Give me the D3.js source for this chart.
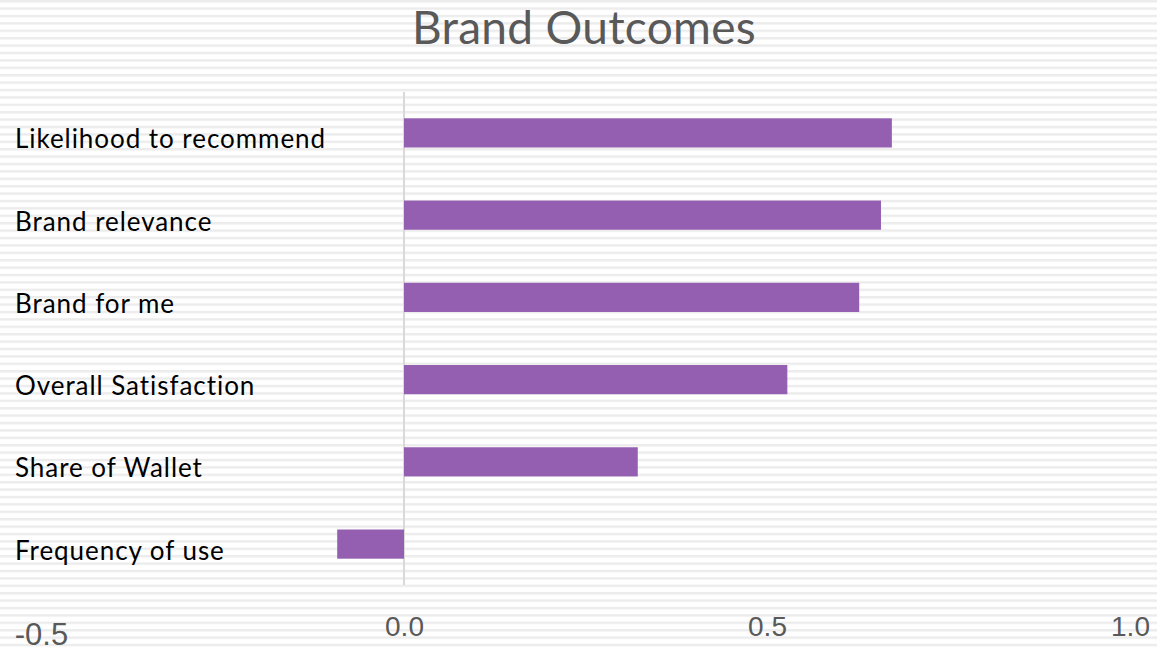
<!DOCTYPE html>
<html>
<head>
<meta charset="utf-8">
<script src="https://cdn.jsdelivr.net/npm/d3@7"></script>
<style>
	body { margin: 0; background: #fff; }
	svg { display: block; }
</style>
</head>
<body>
<svg id="chart" width="1157" height="651"></svg>
<script>
const categories = ['Likelihood to recommend', 'Brand relevance', 'Brand for me', 'Overall Satisfaction', 'Share of Wallet', 'Frequency of use'];
const values = [0.672, 0.657, 0.627, 0.528, 0.322, -0.092];
const tickValues = [-0.5, 0.0, 0.5, 1.0];

const width = 1157;
const height = 651;
const svg = d3.select('#chart');

// striped background
const defs = svg.append('defs');
const pattern = defs.append('pattern')
	.attr('id', 'stripes')
	.attr('patternUnits', 'userSpaceOnUse')
	.attr('width', 8)
	.attr('height', 7.4);
pattern.append('rect').attr('width', 8).attr('height', 7.4).attr('fill', '#ffffff');
pattern.append('rect').attr('y', 0).attr('width', 8).attr('height', 2.4).attr('fill', '#ececec');
svg.append('rect').attr('width', width).attr('height', height).attr('fill', 'url(#stripes)');

const x = d3.scaleLinear().domain([-0.5, 1.0]).range([41, 1130]);
const y = d3.scaleBand().domain(categories).range([92, 585]).paddingInner(0.645).paddingOuter(0.32);

svg.append('text')
	.attr('x', 584)
	.attr('y', 44)
	.attr('text-anchor', 'middle')
	.style('font-family', 'Lato, sans-serif')
	.style('font-size', '46px')
	.style('letter-spacing', '0.3px')
	.attr('fill', '#595959')
	.text('Brand Outcomes');

// zero line
svg.append('line')
	.attr('x1', x(0)).attr('x2', x(0))
	.attr('y1', 92).attr('y2', 585)
	.attr('stroke', '#d9d9d9')
	.attr('stroke-width', 2);

svg.append('g')
	.selectAll('rect')
	.data(values)
	.enter()
	.append('rect')
	.attr('x', (d) => x(Math.min(0, d)))
	.attr('width', (d) => Math.abs(x(d) - x(0)))
	.attr('y', (d, i) => y(categories[i]))
	.attr('height', y.bandwidth())
	.attr('fill', '#945fb0');

// category labels
svg.append('g')
	.selectAll('text')
	.data(categories)
	.enter()
	.append('text')
	.attr('x', 15)
	.attr('y', (d) => y(d) + y.bandwidth() / 2 + 9)
	.attr('dominant-baseline', 'middle')
	.style('font-family', 'Lato, sans-serif')
	.style('font-size', '26px')
	.style('letter-spacing', '0.95px')
	.attr('fill', '#000')
	.text((d) => d);

// x axis
const fmt = (d) => d3.format('.1f')(d).replace('\u2212', '-');
const xAxis = d3.axisBottom(x).tickValues(tickValues).tickFormat(fmt).tickSize(0);
const axisG = svg.append('g').attr('transform', 'translate(0,626)').call(xAxis);
axisG.select('.domain').remove();
axisG.selectAll('text')
	.attr('dy', '0.35em')
	.attr('y', 0)
	.style('font-family', '"Liberation Sans", Arial, sans-serif')
	.style('font-size', '28px')
	.attr('fill', '#595959');
axisG.selectAll('.tick').filter((d) => d === -0.5).select('text')
	.attr('dy', '0.6em')
	.style('font-size', '31px');
</script>
</body>
</html>
